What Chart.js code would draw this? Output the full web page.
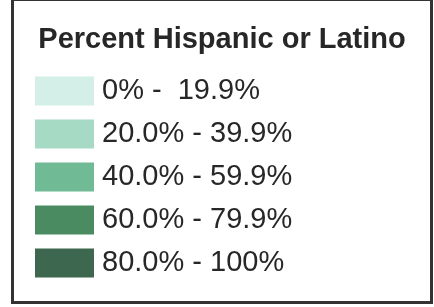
<!DOCTYPE html>
<html lang="en">
<head>
  <meta charset="UTF-8">
  <title>Percent Hispanic or Latino</title>
  <script src="https://cdn.jsdelivr.net/npm/chart.js"></script>
  <style>
    body { margin: 0; background: #fff; overflow: hidden; }
    .frame {
      position: absolute;
      left: 11px;
      top: -2px;
      width: 416px;
      height: 300px;
      border: 3px solid #333;
    }
  </style>
</head>
<body>
  <!-- legend box -->
  <div class="frame">
    <canvas id="legendChart" width="416" height="300"></canvas>
  </div>

<script>
  // legend classes
  const titleText = 'Percent Hispanic or Latino';
  const ranges = ['0% -  19.9%', '20.0% - 39.9%', '40.0% - 59.9%', '60.0% - 79.9%', '80.0% - 100%'];
  const values = [[], [], [], [], []]; // no marks, legend only
  const swatchColors = ['#d4efe8', '#a6dac4', '#70ba96', '#4b8b62', '#3d684f'];

  const textColor = '#272727';
  const fontFamily = '"Liberation Sans", Arial, sans-serif';

  const ctx = document.getElementById('legendChart').getContext('2d');
  const legendChart = new Chart(ctx, {
    type: 'bar',
    data: {
      labels: [''],
      datasets: ranges.map((r, i) => ({
        label: r,
        data: values[i],
        backgroundColor: swatchColors[i],
        borderColor: swatchColors[i],
        borderWidth: 13
      }))
    },
    options: {
      responsive: false,
      animation: false,
      layout: { padding: { left: 13.5, right: 13.5, top: 0, bottom: 0 } },
      scales: {
        x: { display: false },
        y: { display: false }
      },
      plugins: {
        tooltip: { enabled: false },
        title: {
          display: true,
          text: titleText,
          color: textColor,
          font: { family: fontFamily, size: 29, weight: 'bold' },
          padding: { top: 21.6, bottom: 5.1 }
        },
        legend: {
          display: true,
          position: 'top',
          align: 'start',
          maxHeight: 300,
          labels: {
            color: textColor,
            font: { family: fontFamily, size: 29 },
            boxWidth: 46,
            boxHeight: 16,
            padding: 14
          }
        }
      }
    }
  });
</script>
</body>
</html>
